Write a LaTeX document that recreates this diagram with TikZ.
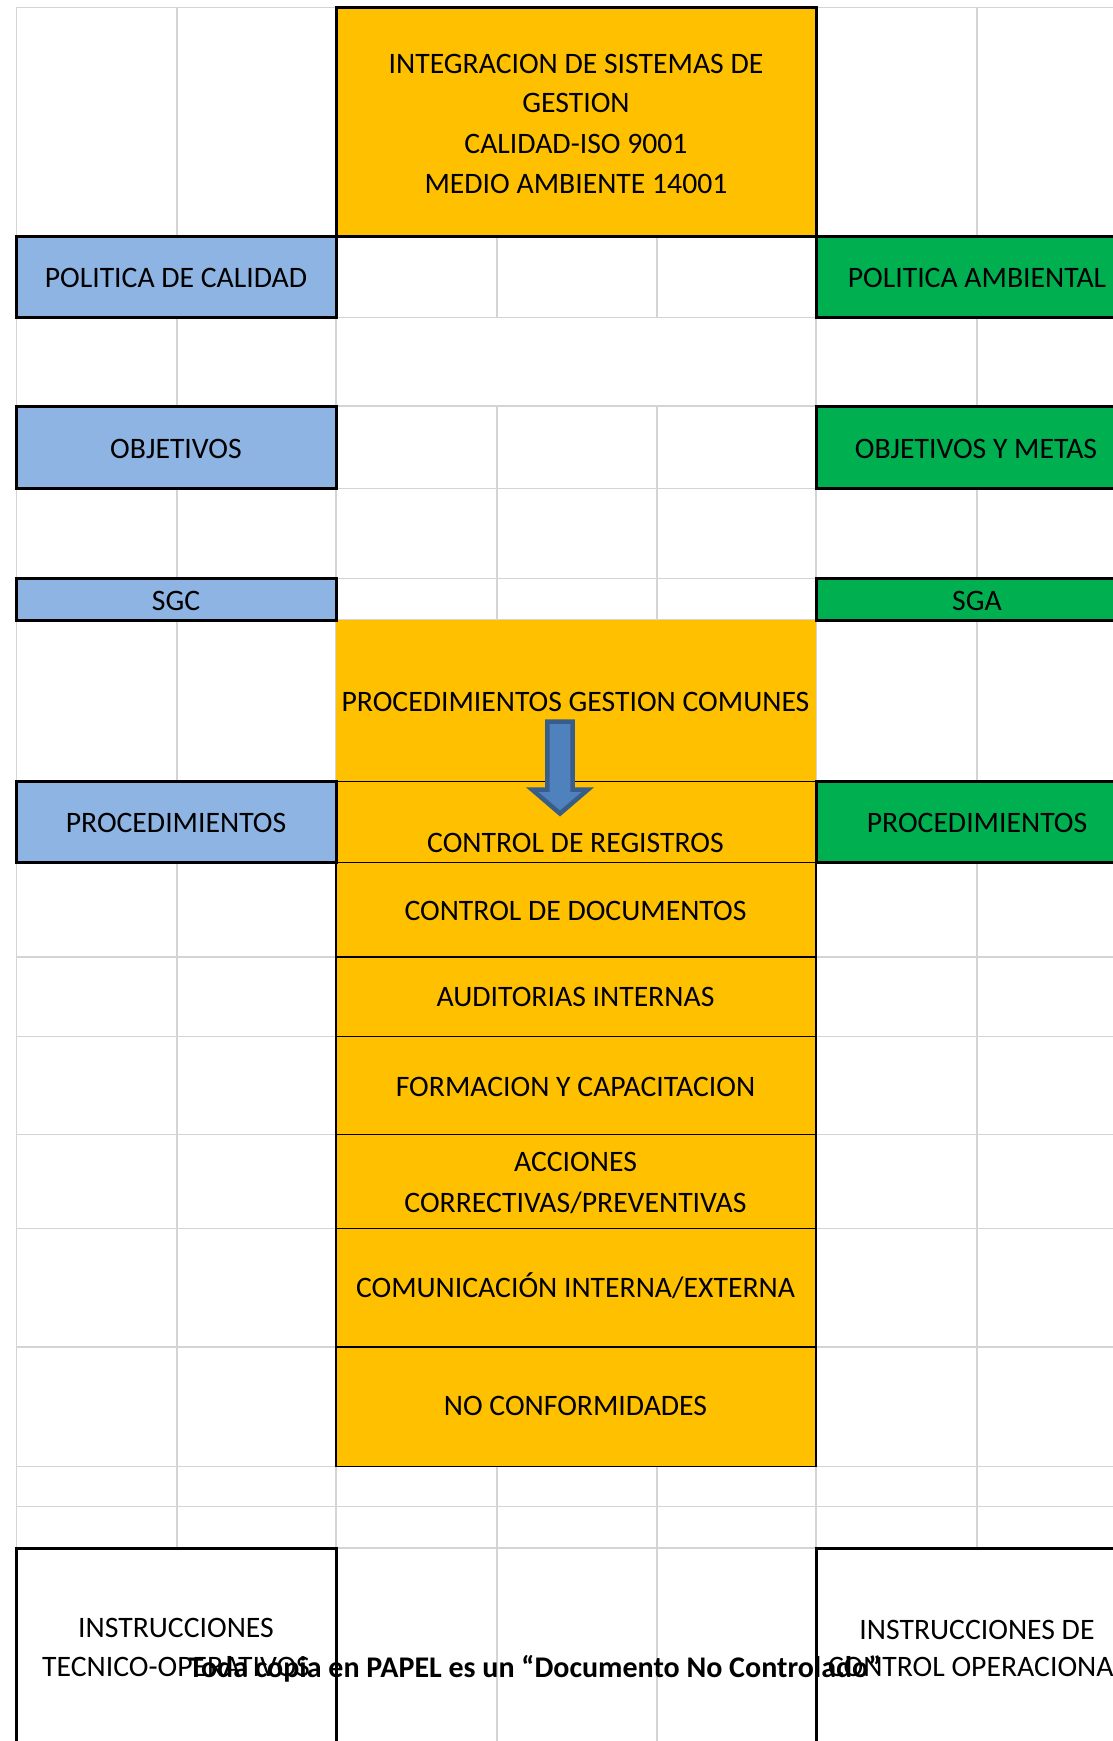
\documentclass[tikz,border=0pt]{standalone}
\usepackage{fontspec}
\setmainfont{Carlito}
\definecolor{orng}{HTML}{FFC000}
\definecolor{blu}{HTML}{8DB4E2}
\definecolor{grn}{HTML}{00B050}
\definecolor{gridc}{HTML}{D4D4D4}
\definecolor{arrf}{HTML}{4F81BD}
\definecolor{arrd}{HTML}{385D8A}
\begin{document}
\begin{tikzpicture}[x=1pt,y=-1pt,
  gridline/.style={draw=gridc, line width=1.3pt},
  heavybox/.style={draw=black, line width=3pt},
  thinline/.style={draw=black, line width=1.3pt},
  lbl/.style={font=\fontsize{29.7}{38}\selectfont, anchor=base, inner sep=0pt, text=black},
  wmark/.style={lbl, font=\fontsize{30}{38}\selectfont\bfseries}]

\clip (0,0) rectangle (1113,1741);
\fill[white] (0,0) rectangle (1113,1741);

% grid
\foreach \y in {7.3,236.7,317.3,406,488.3,578.3,620,781.5,862.3,957,1036.6,1134.5,1228.8,1347,1466.7,1506.7,1548}
  \draw[gridline] (16.4,\y) -- (1113,\y);
\foreach \x in {16.4,177,336,816,977}
  \draw[gridline] (\x,7.3) -- (\x,1741);
\foreach \x in {497,657}{
  \draw[gridline] (\x,236.7) -- (\x,317.3);
  \draw[gridline] (\x,406) -- (\x,1741);
}

% central orange column
\fill[orng] (336,620) rectangle (816,1466.7);
\foreach \y in {781.5,862.3,957,1036.6,1134.5,1228.8,1347,1466.7}
  \draw[thinline] (336,\y) -- (816,\y);
\draw[thinline] (336,781.5) -- (336,1466.7);
\draw[thinline] (816,781.5) -- (816,1466.7);

% top box
\path[fill=orng, heavybox] (336,7.3) rectangle (816,236.7);

% blue boxes
\path[fill=blu, heavybox] (16.4,236.7) rectangle (336,317.3);
\path[fill=blu, heavybox] (16.4,406) rectangle (336,488.3);
\path[fill=blu, heavybox] (16.4,578.3) rectangle (336,620);
\path[fill=blu, heavybox] (16.4,781.5) rectangle (336,862.3);

% green boxes
\path[fill=grn, heavybox] (816,236.7) rectangle (1145,317.3);
\path[fill=grn, heavybox] (816,406) rectangle (1145,488.3);
\path[fill=grn, heavybox] (816,578.3) rectangle (1145,620);
\path[fill=grn, heavybox] (816,781.5) rectangle (1145,862.3);

% instruction boxes
\path[fill=white, heavybox] (16.4,1548) rectangle (336,1780);
\path[fill=white, heavybox] (816,1548) rectangle (1145,1780);

% block arrow
\path[fill=arrf, draw=arrd, line width=4.5pt, line join=miter]
  (547.3,721.5) -- (572.7,721.5) -- (572.7,789.5) -- (588,789.5)
  -- (560,813.5) -- (532,789.5) -- (547.3,789.5) -- cycle;

% texts
\node[lbl] (t1) at (576,73.3) {INTEGRACION DE SISTEMAS DE};
\node[lbl] (t2) at (576,112.7) {GESTION};
\node[lbl] (t3) at (576,153.3) {CALIDAD-ISO 9001};
\node[lbl] (t4) at (576,193.3) {MEDIO AMBIENTE 14001};
\node[lbl] (polc) at (176,287.7) {POLITICA DE CALIDAD};
\node[lbl] (pola) at (977,287.7) {POLITICA AMBIENTAL};
\node[lbl] (objc) at (176,458.3) {OBJETIVOS};
\node[lbl] (obja) at (976,458.3) {OBJETIVOS Y METAS};
\node[lbl] (sgc) at (176,610) {SGC};
\node[lbl] (sga) at (977,610) {SGA};
\node[lbl] (pgc) at (575.5,711.7) {PROCEDIMIENTOS GESTION COMUNES};
\node[lbl] (proc) at (176,832.3) {PROCEDIMIENTOS};
\node[lbl] (proa) at (977,832.3) {PROCEDIMIENTOS};
\node[lbl] (creg) at (575.5,852.7) {CONTROL DE REGISTROS};
\node[lbl] (cdoc) at (575.5,920.8) {CONTROL DE DOCUMENTOS};
\node[lbl] (aud) at (575.5,1006.1) {AUDITORIAS INTERNAS};
\node[lbl] (form) at (575.5,1096.1) {FORMACION Y CAPACITACION};
\node[lbl] (acc1) at (575.5,1171.5) {ACCIONES};
\node[lbl] (acc2) at (575.5,1212) {CORRECTIVAS/PREVENTIVAS};
\node[lbl] (com) at (575.5,1297.7) {COMUNICACIÓN INTERNA/EXTERNA};
\node[lbl] (nc) at (575.5,1415.6) {NO CONFORMIDADES};
\node[lbl] (ins1) at (176,1637.5) {INSTRUCCIONES};
\node[lbl] (ins2) at (176,1676.7) {TECNICO-OPERATIVOS};
\node[lbl] (ind1) at (977,1639) {INSTRUCCIONES DE};
\node[lbl] (ind2) at (977,1676.7) {CONTROL OPERACIONAL};
\node[wmark] (wm) at (535,1677) {Toda copia en PAPEL es un “Documento No Controlado”};
\end{tikzpicture}
\end{document}
